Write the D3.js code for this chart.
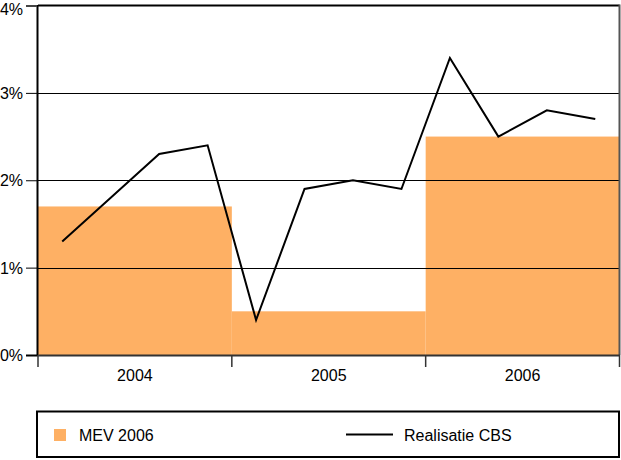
<!DOCTYPE html>
<html>
<head>
<meta charset="utf-8">
<script src="https://cdn.jsdelivr.net/npm/d3@7/dist/d3.min.js"></script>
<style>
html,body{margin:0;padding:0;background:#fff;}
svg{display:block;font-family:"Liberation Sans",Arial,sans-serif;}
</style>
</head>
<body>
<svg id="chart" width="621" height="460"></svg>
<script>
const years = ["2004", "2005", "2006"];
const mevValues = [1.7, 0.5, 2.5];
const quarters = ["2004Q1","2004Q2","2004Q3","2004Q4","2005Q1","2005Q2","2005Q3","2005Q4","2006Q1","2006Q2","2006Q3","2006Q4"];
const cbsValues = [1.3, 1.8, 2.3, 2.4, 0.4, 1.9, 2.0, 1.9, 3.4, 2.5, 2.8, 2.7];
const yTicks = [0, 1, 2, 3, 4];
const legendLabels = ["MEV 2006", "Realisatie CBS"];

(function () {
const svg = d3.select("#chart");
const pLeft = 38, pRight = 619.5, pTop = 5.5, pBottom = 355;
const barColor = "#FEB064";

const xYear = d3.scaleBand().domain(years).range([pLeft, pRight]).padding(0);
const xQ = d3.scaleBand().domain(quarters).range([pLeft, pRight]).padding(0);
const y = d3.scaleLinear().domain([0, 4]).range([pBottom, pTop]);

// bars
svg.append("g").selectAll("rect").data(years).join("rect")
  .attr("x", d => xYear(d))
  .attr("width", xYear.bandwidth())
  .attr("y", (d, i) => y(mevValues[i]))
  .attr("height", (d, i) => y(0) - y(mevValues[i]))
  .attr("fill", barColor);

// gridlines
svg.append("g").selectAll("line").data([1, 2, 3]).join("line")
  .attr("x1", pLeft).attr("x2", pRight)
  .attr("y1", d => Math.round(y(d)) + 0.5).attr("y2", d => Math.round(y(d)) + 0.5)
  .attr("stroke", "#000").attr("stroke-width", 1);

// frame: top, right
svg.append("line").attr("x1", pLeft).attr("x2", pRight).attr("y1", y(4)).attr("y2", y(4))
  .attr("stroke", "#000").attr("stroke-width", 2);
svg.append("line").attr("x1", pRight).attr("x2", pRight).attr("y1", y(4) - 1).attr("y2", pBottom)
  .attr("stroke", "#555").attr("stroke-width", 2);

// line
const line = d3.line()
  .x((d, i) => xQ(quarters[i]) + xQ.bandwidth() / 2)
  .y(d => y(d));
svg.append("path").datum(cbsValues)
  .attr("d", line)
  .attr("fill", "none").attr("stroke", "#000").attr("stroke-width", 2)
  .attr("stroke-linejoin", "miter");

// y axis
const yAxis = d3.axisLeft(y).tickValues(yTicks).tickFormat(d => d + "%").tickSize(11).tickPadding(3);
const gy = svg.append("g").attr("transform", `translate(${pLeft - 1},0)`).call(yAxis);
gy.select(".domain").attr("stroke", "#000").attr("stroke-width", 2);
gy.selectAll(".tick line").attr("stroke", d => d === 4 ? "#888" : "#000").attr("stroke-width", 1);
gy.selectAll(".tick text").attr("font-size", 16).attr("fill", "#000")
  .attr("font-family", "Liberation Sans, Arial, sans-serif")
  .attr("dy", d => d === 4 ? "0.75em" : "0.35em")
  .attr("y", d => d === 4 ? -3 : 0);

// x axis
const xAxis = d3.axisBottom(xYear).tickSize(0).tickPadding(15);
const gx = svg.append("g").attr("transform", `translate(0,${pBottom})`).call(xAxis);
gx.select(".domain").attr("stroke", "#333").attr("stroke-width", 2);
gx.selectAll(".tick text").attr("font-size", 16).attr("fill", "#000")
  .attr("font-family", "Liberation Sans, Arial, sans-serif");
const edges = years.map(d => xYear(d)).concat([pRight]);
svg.append("g").selectAll("line").data(edges).join("line")
  .attr("x1", d => d).attr("x2", d => d)
  .attr("y1", pBottom).attr("y2", pBottom + 12)
  .attr("stroke", "#333").attr("stroke-width", 1.5);

// legend
const lg = svg.append("g");
lg.append("rect").attr("x", 37).attr("y", 411.5).attr("width", 582).attr("height", 45.5)
  .attr("fill", "none").attr("stroke", "#000").attr("stroke-width", 2);
lg.append("rect").attr("x", 54).attr("y", 429).attr("width", 12).attr("height", 12).attr("fill", barColor);
lg.append("text").attr("x", 79).attr("y", 441).attr("font-size", 16).text(legendLabels[0]);
lg.append("line").attr("x1", 346).attr("x2", 393).attr("y1", 434.5).attr("y2", 434.5)
  .attr("stroke", "#000").attr("stroke-width", 2);
lg.append("text").attr("x", 404).attr("y", 441).attr("font-size", 16).text(legendLabels[1]);
})();
</script>
</body>
</html>
